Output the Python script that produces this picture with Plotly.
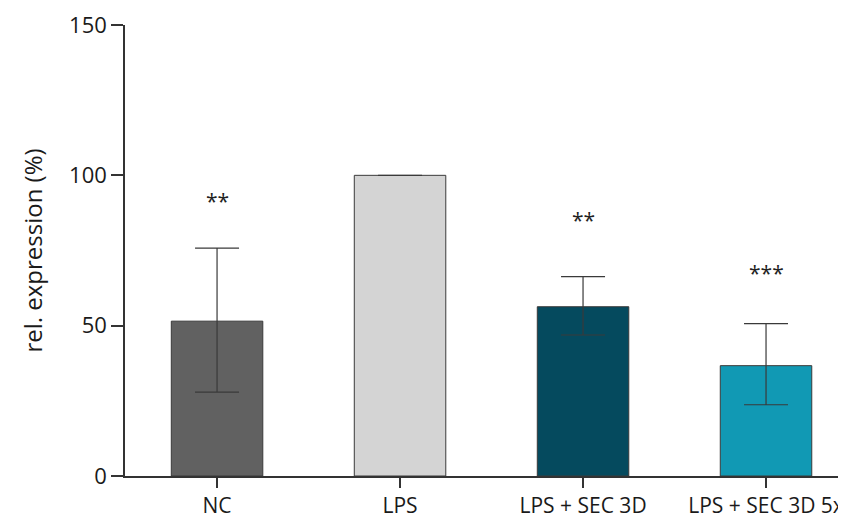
import plotly.graph_objects as go

categories = ["NC", "LPS", "LPS + SEC 3D", "LPS + SEC 3D 5x"]
values = [51.5, 100.0, 56.3, 36.7]
err_plus = [24.3, None, 10.0, 14.0]
err_minus = [23.6, None, 9.4, 13.0]
colors = ["#616161", "#d4d4d4", "#054a5e", "#1199b4"]
sig_labels = ["**", "", "**", "***"]
sig_y = [91.5, None, 85.0, 67.5]

FONT = "Open Sans, Noto Sans, sans-serif"

fig = go.Figure()
fig.add_trace(go.Bar(
    x=categories, y=values, width=0.5,
    marker=dict(color=colors, line=dict(color="#3a3a3a", width=1)),
    error_y=dict(type="data", symmetric=False, array=err_plus, arrayminus=err_minus,
                 color="#3a3a3a", thickness=1.2, width=22),
    showlegend=False,
))

for c, s, yy in zip(categories, sig_labels, sig_y):
    if s:
        fig.add_annotation(x=c, y=yy, text=s, showarrow=False,
                           font=dict(family=FONT, size=21, color="#222"))

fig.update_layout(
    width=838, height=510,
    margin=dict(l=117, r=0, t=17, b=42, pad=0, autoexpand=False),
    paper_bgcolor="white", plot_bgcolor="white",
    font=dict(family=FONT, color="#1a1a1a"),
    xaxis=dict(range=[-0.503, 3.437], showline=True, linecolor="#333", linewidth=1.5,
               ticks="outside", ticklen=10, tickwidth=1.5, tickcolor="#333",
               tickfont=dict(size=21), showgrid=False, zeroline=False, automargin=False),
    yaxis=dict(range=[0, 150], tickvals=[0, 50, 100, 150], showline=True,
               linecolor="#333", linewidth=1.5, ticks="outside", ticklen=12,
               tickwidth=1.5, tickcolor="#333", tickfont=dict(size=22),
               showgrid=False, zeroline=False, automargin=False,
               title=dict(text="rel. expression (%)", font=dict(size=24), standoff=20)),
)

fig.write_html("out.html")
